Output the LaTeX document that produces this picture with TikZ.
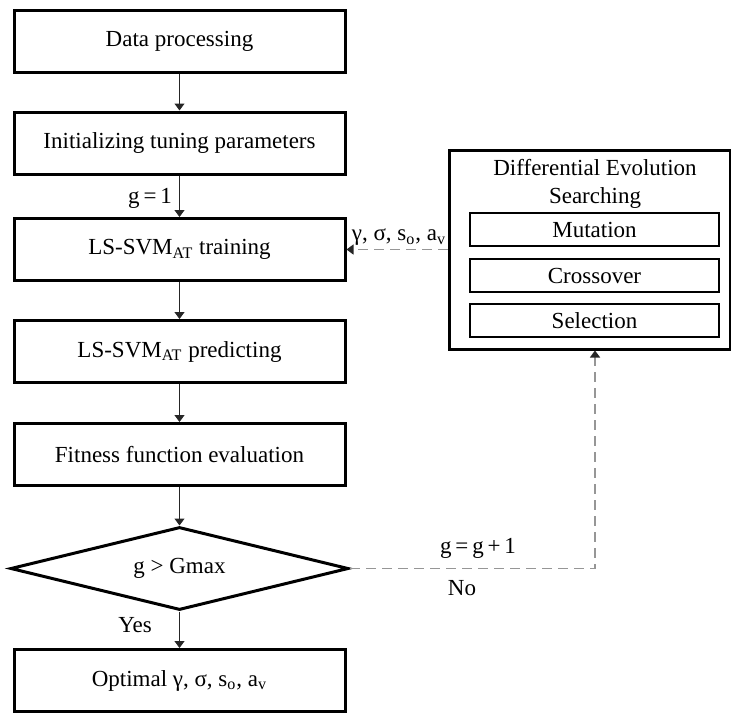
\documentclass[tikz,border=0pt]{standalone}
\usepackage{fontspec}
\setmainfont{Liberation Serif}
\usetikzlibrary{arrows.meta, positioning, shapes.geometric}
\definecolor{dashgray}{RGB}{150,150,150}
\tikzset{
    % main flow
    stepbox/.style={rectangle, draw=black, line width=1.5pt, fill=white,
                minimum width=165.5pt, minimum height=31pt, inner sep=0pt,
                align=center, font=\fontsize{11.5}{13}\selectfont},
    decide/.style={diamond, draw=black, line width=1.5pt, aspect=4,
                minimum width=169pt, minimum height=41.5pt, inner sep=0pt,
                font=\fontsize{11.5}{13}\selectfont},
    flow/.style={-{Triangle[length=3.5pt, width=5pt]}, line width=0.5pt, black!85},
    % DE block
    debox/.style={rectangle, draw=black, line width=1.5pt,
                minimum width=140.5pt, minimum height=99.5pt, inner sep=0pt},
    opbox/.style={rectangle, draw=black, line width=1pt,
                minimum width=124.5pt, minimum height=16.5pt, inner sep=0pt,
                font=\fontsize{11.5}{13}\selectfont},
    loop/.style={-{Triangle[length=3.5pt, width=5pt, color=black!85]}, dashed,
                dash pattern=on 5pt off 3pt, line width=0.7pt, dashgray},
    lbl/.style={font=\fontsize{11.5}{13}\selectfont, inner sep=1pt},
}
\begin{document}
\begin{tikzpicture}[x=0.5pt, y=-0.5pt]
\useasboundingbox (0,0) rectangle (731,712);

\node[stepbox] (data)  at (179.5,41)    {Data processing};
\node[stepbox] (init)  at (179.5,143)   {Initializing tuning parameters};
\node[stepbox] (train) at (179.5,249.5) {LS-SVM\textsubscript{AT} training};
\node[stepbox] (pred)  at (179.5,351.5) {LS-SVM\textsubscript{AT} predicting};
\node[stepbox] (fit)   at (179.5,454.5) {Fitness function evaluation};
\node[decide]  (gmax)  at (179.5,568.5) {g > Gmax};
\node[stepbox] (opt)   at (179.5,680.5) {Optimal γ, σ, s\textsubscript{o}, a\textsubscript{v}};

\draw[flow] (data) -- (init);
\draw[flow] (init) -- (train);
\draw[flow] (train) -- (pred);
\draw[flow] (pred) -- (fit);
\draw[flow] (fit) -- (gmax);
\draw[flow] (gmax) -- (opt);

\node[lbl] (g1)  at (150,198) {g\,=\,1};
\node[lbl] (yes) at (135,625) {Yes};

% differential evolution
\node[debox] (de) at (589.5,249.5) {};
\node[lbl, align=center] (detitle) at (595,184) {Differential Evolution\\[1pt]Searching};
\node[opbox] (mut)   at (594.5,229.5) {Mutation};
\node[opbox] (cross) at (594.5,275.5) {Crossover};
\node[opbox] (sel)   at (594.5,320.5) {Selection};

\coordinate (corner) at (595,568.5);
\draw[loop] (gmax.east) -- (corner) -- (corner |- de.south);
\draw[loop] (de.west |- train.east) -- (train.east);

\node[lbl] (par) at (399,237) {γ, σ, s\textsubscript{o}, a\textsubscript{v}};
\node[lbl] (inc) at (478,548) {g\,=\,g\,+\,1};
\node[lbl] (no)  at (462,588) {No};
\end{tikzpicture}
\end{document}
